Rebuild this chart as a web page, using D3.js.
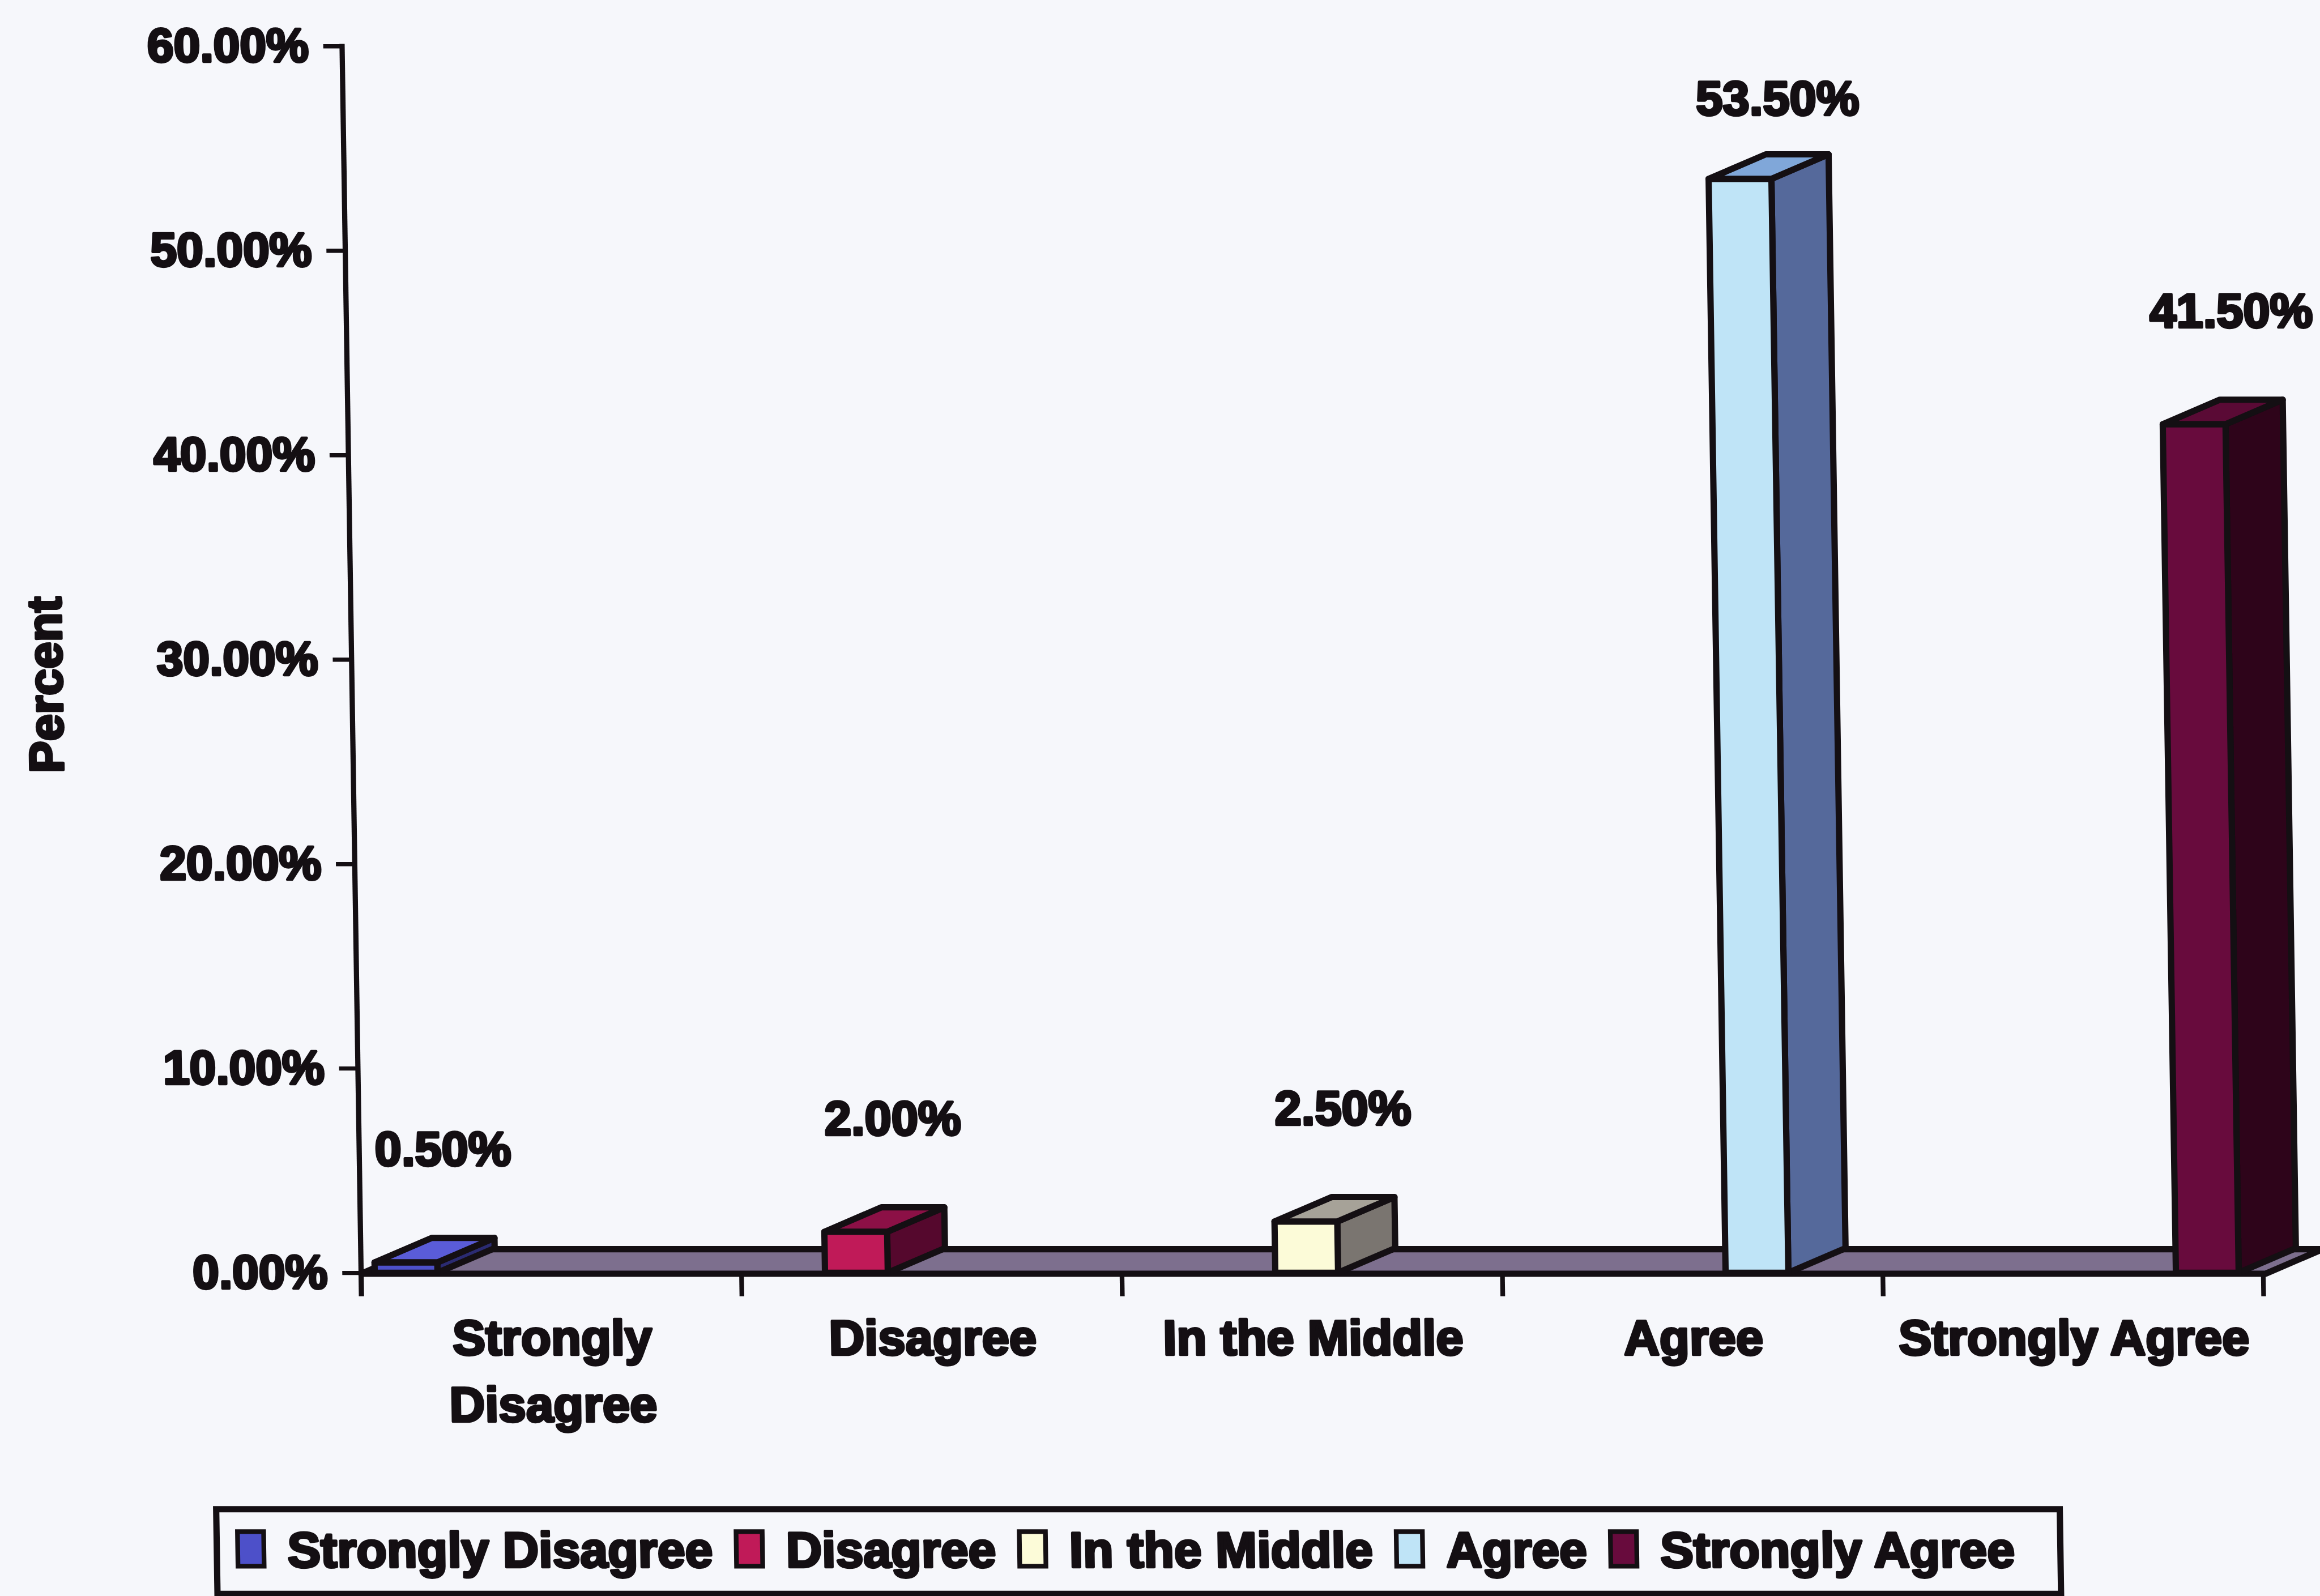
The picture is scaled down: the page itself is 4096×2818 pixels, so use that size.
<!DOCTYPE html>
<html>
<head>
<meta charset="utf-8">
<script src="https://cdn.jsdelivr.net/npm/d3@7"></script>
<style>
  html, body { margin: 0; padding: 0; background: #f6f7fb; overflow: hidden; }
  svg { display: block; }
</style>
</head>
<body>
<svg id="chart"></svg>
<script>
// ---------------- data ----------------
const categories = ["Strongly Disagree", "Disagree", "In the Middle", "Agree", "Strongly Agree"];
const seriesNames = ["Strongly Disagree", "Disagree", "In the Middle", "Agree", "Strongly Agree"];
const values = [0.5, 2.0, 2.5, 53.5, 41.5];
const yTicks = [0, 10, 20, 30, 40, 50, 60];
const axisTitle = "Percent";

// ---------------- palette ----------------
const frontColors = ["#4d50c9", "#c01a58", "#fcfbd8", "#bfe4f7", "#680b3d"];
const topColors   = ["#5a5cd8", "#8c1046", "#a6a298", "#80a7d9", "#5a0a35"];
const sideColors  = ["#2b2b72", "#55082d", "#7a7570", "#55699b", "#2e041a"];
const floorColor = "#7d6f8e";
const ink = "#140f13";
const bg = "#f6f7fb";
const font = "'Liberation Sans', Arial, Helvetica, sans-serif";
const textStroke = 5;

// ---------------- canvas (reference coordinates) ----------------
const W = 4434, H = 3051;
const svg = d3.select("#chart")
  .attr("width", 4096).attr("height", 2818)
  .attr("viewBox", `0 0 ${W} ${H}`);
svg.append("rect").attr("width", W).attr("height", H).attr("fill", bg);

// slight scan skew of the original picture
const K = 0.0155, yRef = 2440;
const g = svg.append("g")
  .attr("transform", `translate(${-K * yRef},0) skewX(${Math.atan(K) * 180 / Math.PI})`);

function styleText(sel, size) {
  return sel.attr("font-family", font).attr("font-weight", 700).attr("font-size", size)
    .attr("fill", ink).attr("stroke", ink).attr("stroke-width", textStroke)
    .attr("stroke-linejoin", "round");
}

// ---------------- scales ----------------
const y = d3.scaleLinear().domain([0, 60]).range([2433, 88]);
const xBand = d3.scaleBand().domain(categories).range([690, 4326]);
const xBar = d3.scalePoint().domain(categories).range([716, 4159]);
const frontW = 120, DX = 110, DY = 47;
const axisX = 690, axisBottom = 2478;

const line = d3.line();

// ---------------- floor ----------------
const y0 = y(0) + 2;
const fl = [[axisX, y0], [4330, y0], [4330 + DX, y0 - DY], [axisX + DX, y0 - DY]];
g.append("path")
  .attr("d", line(fl) + "Z")
  .attr("fill", floorColor)
  .attr("stroke", ink).attr("stroke-width", 12).attr("stroke-linejoin", "round");

// ---------------- category separators ----------------
g.append("g").selectAll("line")
  .data(categories)
  .join("line")
  .attr("x1", d => xBand(d) + xBand.bandwidth())
  .attr("x2", d => xBand(d) + xBand.bandwidth())
  .attr("y1", y0).attr("y2", axisBottom)
  .attr("stroke", ink).attr("stroke-width", 9);

// ---------------- bars ----------------
const bars = g.append("g");
values.forEach((v, i) => {
  const c = categories[i];
  const x0 = xBar(c), x1 = x0 + frontW;
  const yb = y(0), yt = y(v);
  const bg_ = bars.append("g");
  bg_.append("path")
    .attr("d", line([[x1, yt], [x1 + DX, yt - DY], [x1 + DX, yb - DY], [x1, yb]]) + "Z")
    .attr("fill", sideColors[i]);
  bg_.append("path")
    .attr("d", line([[x0, yt], [x0 + DX, yt - DY], [x1 + DX, yt - DY], [x1, yt]]) + "Z")
    .attr("fill", topColors[i]);
  bg_.append("rect")
    .attr("x", x0).attr("y", yt).attr("width", frontW).attr("height", yb - yt)
    .attr("fill", frontColors[i]);
  bg_.selectAll("path, rect")
    .attr("stroke", ink).attr("stroke-width", 12).attr("stroke-linejoin", "round");
});

// ---------------- data labels ----------------
const fmt = d3.format(".2f");
styleText(g.append("g").selectAll("text")
  .data(values)
  .join("text")
  .attr("x", (d, i) => xBar(categories[i]) + 134)
  .attr("y", d => Math.max(y(d) - 185, 220))
  .attr("text-anchor", "middle"), 92)
  .text(d => fmt(d) + "%");

// ---------------- value axis ----------------
const yAxis = g.append("g")
  .attr("transform", `translate(${axisX},0)`)
  .call(d3.axisLeft(y).tickValues(yTicks).tickSize(36).tickPadding(28)
    .tickFormat(d => fmt(d) + "%"));
yAxis.select(".domain").remove();
yAxis.selectAll(".tick line").attr("stroke", ink).attr("stroke-width", 8);
styleText(yAxis.selectAll(".tick text"), 91);

g.append("line")
  .attr("x1", axisX).attr("x2", axisX)
  .attr("y1", y(60) - 4).attr("y2", axisBottom)
  .attr("stroke", ink).attr("stroke-width", 10);

styleText(g.append("text")
  .attr("transform", `translate(104,1309) rotate(-90)`)
  .attr("text-anchor", "middle").attr("dominant-baseline", "central"), 92)
  .text(axisTitle);

// ---------------- category labels (wrapped to band width) ----------------
const catFont = 94, catBase = 2590, catLine = 128;
categories.forEach(c => {
  const cx = xBand(c) + xBand.bandwidth() / 2;
  const t = styleText(g.append("text").attr("text-anchor", "middle"), catFont);
  const words = c.split(" ");
  let lines = [], cur = [];
  const probe = t.append("tspan");
  words.forEach(w => {
    const trial = cur.concat([w]).join(" ");
    probe.text(trial);
    if (cur.length && probe.node().getComputedTextLength() > xBand.bandwidth() - 20) {
      lines.push(cur.join(" "));
      cur = [w];
    } else {
      cur.push(w);
    }
  });
  lines.push(cur.join(" "));
  probe.remove();
  lines.forEach((ln, k) => {
    t.append("tspan").attr("x", cx).attr("y", catBase + k * catLine).text(ln);
  });
});

// ---------------- legend ----------------
const legX0 = 406, legX1 = 3930, legY0 = 2885, legY1 = 3047;
g.append("rect")
  .attr("x", legX0).attr("y", legY0).attr("width", legX1 - legX0).attr("height", legY1 - legY0)
  .attr("fill", "none").attr("stroke", ink).attr("stroke-width", 12);

const legFont = 95, swW = 50, swH = 66, swY = 2928, txtBase = 2996;
let lx = 446;
seriesNames.forEach((s, i) => {
  g.append("rect")
    .attr("x", lx).attr("y", swY).attr("width", swW).attr("height", swH)
    .attr("fill", frontColors[i]).attr("stroke", ink).attr("stroke-width", 9);
  const t = styleText(g.append("text")
    .attr("x", lx + 95).attr("y", txtBase), legFont)
    .text(s);
  lx = lx + 95 + t.node().getComputedTextLength() + 45;
});
</script>
</body>
</html>
